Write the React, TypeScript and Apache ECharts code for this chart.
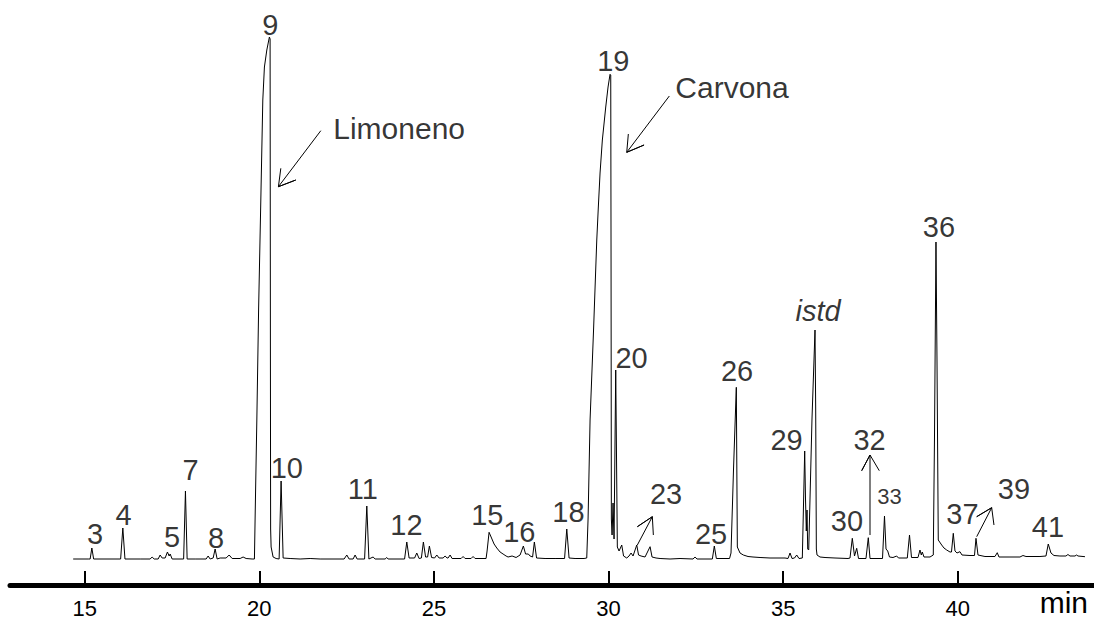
import React, { useEffect, useRef } from 'react';
import * as echarts from 'echarts';

const FONT = '"Liberation Sans", Arial, Helvetica, sans-serif';

// chromatogram trace: [retention time (min), abundance]
const trace: [number, number][] = [
  [14.669, 0], [15.098, 0], [15.155, 0], [15.204, 11], [15.255, 0],
  [16.028, 0], [16.091, 31], [16.152, 0], [16.587, 0], [16.873, 0],
  [16.93, 2], [16.988, 0], [17.102, 0], [17.159, 4], [17.217, 1],
  [17.302, 1], [17.368, 7], [17.417, 3], [17.446, 5], [17.503, 0],
  [17.832, 0], [17.884, 68], [17.932, 0], [18.161, 0], [18.476, 0],
  [18.533, 3], [18.591, 0], [18.677, 1], [18.734, 10], [18.791, 0],
  [18.877, 1], [19.049, 1], [19.135, 4], [19.221, 0.5], [19.45, 0.5],
  [19.535, 2], [19.621, 0.5], [19.793, 0], [19.859, 0], [19.893, 70],
  [19.928, 139], [19.979, 250], [20.042, 359], [20.099, 459], [20.145, 492],
  [20.214, 509], [20.288, 522], [20.308, 520], [20.317, 200], [20.323, 30],
  [20.337, 12], [20.394, 2], [20.48, 0.5], [20.566, 0], [20.623, 78],
  [20.681, 1], [20.881, 0.5], [21.167, 0], [21.454, 0.5], [21.74, 0],
  [22.427, 0], [22.504, 4], [22.57, 0], [22.685, 0], [22.742, 4],
  [22.799, 0], [23.014, 0], [23.077, 53], [23.137, 0], [23.257, 2],
  [23.315, 0], [23.601, 0], [23.649, 1.5], [23.687, 0], [24.159, 0],
  [24.222, 17], [24.288, 1], [24.445, 1], [24.508, 6], [24.574, 0.5],
  [24.64, 1], [24.697, 17], [24.76, 2], [24.818, 2], [24.869, 13],
  [24.932, 1.5], [25.018, 1], [25.081, 4], [25.147, 1], [25.261, 1],
  [25.319, 3], [25.376, 1], [25.404, 1], [25.462, 4], [25.519, 0.5],
  [25.777, 0.5], [25.834, 2.5], [25.891, 0.5], [26.063, 0.5], [26.12, 2.5],
  [26.177, 0.5], [26.492, 0.5], [26.521, 8], [26.578, 26.7], [26.636, 22],
  [26.721, 15], [26.799, 11], [26.893, 7], [26.979, 5], [27.065, 3],
  [27.122, 2], [27.237, 3], [27.351, 1.5], [27.466, 4], [27.56, 13],
  [27.623, 5], [27.703, 5], [27.752, 3], [27.824, 2], [27.875, 17],
  [27.938, 1], [28.181, 0.5], [28.468, 0.5], [28.74, 0.5], [28.803, 30],
  [28.869, 1], [29.04, 0.5], [29.298, 0.5], [29.375, 1], [29.413, 40],
  [29.47, 139], [29.57, 229], [29.662, 319], [29.707, 352], [29.756, 386],
  [29.822, 419], [29.919, 452], [29.985, 472], [30.042, 484.7], [30.062, 484],
  [30.071, 300], [30.08, 40], [30.1, 24], [30.128, 56], [30.157, 20],
  [30.205, 189], [30.251, 12], [30.3, 8], [30.377, 14], [30.429, 3],
  [30.52, 1], [30.586, 3], [30.644, 6], [30.701, 3], [30.807, 14],
  [30.858, 4], [30.93, 3], [31.044, 2], [31.188, 12.3], [31.245, 2],
  [31.359, 1], [31.474, 0.5], [31.76, 0], [32.046, 0.5], [32.418, 0],
  [32.476, 2], [32.533, 0], [32.971, 0], [33.028, 13], [33.086, 0.5],
  [33.464, 0.5], [33.506, 6], [33.578, 90], [33.658, 171.7], [33.687, 12],
  [33.764, 6], [33.859, 4], [33.993, 2.5], [34.136, 2], [34.337, 1.5],
  [34.623, 1], [35.052, 1], [35.138, 0.5], [35.196, 6], [35.253, 0.5],
  [35.324, 1], [35.387, 4], [35.453, 0.5], [35.548, 1], [35.616, 108],
  [35.639, 60], [35.662, 28], [35.682, 49], [35.702, 10], [35.731, 9],
  [35.768, 60], [35.825, 140], [35.911, 229], [35.931, 150], [35.949, 10],
  [35.969, 4], [36.054, 2], [36.198, 1.5], [36.484, 1], [36.856, 0.5],
  [36.913, 1], [36.979, 20.7], [37.042, 3], [37.105, 10.7], [37.157, 0.5],
  [37.371, 0.5], [37.437, 21.3], [37.486, 0.5], [37.844, 0.5], [37.901, 43],
  [37.944, 10], [37.993, 8], [38.044, 2], [38.144, 1.5], [38.25, 3],
  [38.302, 1], [38.554, 1], [38.617, 24], [38.674, 1.5], [38.86, 1.5],
  [38.917, 9], [38.955, 4], [38.983, 7], [39.032, 2], [39.204, 2],
  [39.298, 4], [39.332, 120], [39.375, 317], [39.404, 200], [39.441, 19],
  [39.539, 14], [39.604, 11], [39.682, 9], [39.776, 7], [39.819, 7],
  [39.871, 25.7], [39.919, 8], [39.977, 6], [40.062, 7.3], [40.12, 4],
  [40.349, 3.5], [40.478, 3.5], [40.521, 20.7], [40.578, 4], [40.778, 2.5],
  [41.064, 2.5], [41.13, 6.3], [41.179, 2], [41.494, 2], [41.78, 2],
  [41.866, 3.5], [41.952, 2.5], [42.353, 2.5], [42.525, 3], [42.59, 15],
  [42.668, 6], [42.754, 3.5], [42.925, 3], [43.097, 3], [43.154, 4.5],
  [43.212, 3], [43.355, 3], [43.403, 4], [43.441, 3], [43.641, 2.3],
];

// peak numbers and where their labels sit (min, abundance)
const peakLabels = ['3', '4', '5', '7', '8', '9', '10', '11', '12', '15', '16', '18', '19', '20',
  '23', '25', '26', '29', 'istd', '30', '32', '33', '36', '37', '39', '41'];
const peakLabelPos: [number, number][] = [
  [15.298, 25], [16.109, 44], [17.503, 22], [18.032, 89], [18.762, 21.5],
  [20.317, 534], [20.787, 90.7], [22.965, 70.3], [24.211, 34.3], [26.529, 43.7],
  [27.443, 27], [28.849, 47], [30.137, 497.7], [30.658, 201], [31.645, 65],
  [32.934, 25.5], [33.678, 188.5], [35.095, 119], [35.997, 248], [36.827, 38],
  [37.472, 119], [38.044, 62.5], [39.461, 332], [40.134, 45.5], [41.608, 70.3],
  [42.582, 32.5],
];

const compoundNames = ['Limoneno', 'Carvona'];
const compoundLabelPos: [number, number][] = [[24.002, 430.7], [33.535, 471.4]];

// arrows: [start, tip, arm1, arm2]
const arrowNames = ['Limoneno', 'Carvona', '23', '32', '39'];
const arrowPoints: [number, number][][] = [
  [[21.76, 428.3], [20.546, 372.3], [21.044, 379], [20.615, 390.7]],
  [[31.74, 463], [30.52, 406.7], [31.016, 414], [30.566, 425]],
  [[30.824, 14], [31.253, 42.3], [30.824, 32.3], [31.282, 24]],
  [[37.486, 24], [37.486, 104], [37.248, 88.3], [37.752, 88.3]],
  [[40.541, 22.3], [40.97, 51.3], [40.541, 42.3], [41.036, 34]],
];

const xTicks = [15, 20, 25, 30, 35, 40];
const xAxisName = 'min';

export default function App() {
  const ref = useRef<HTMLDivElement>(null);
  useEffect(() => {
    if (!ref.current) return;
    const chart = echarts.init(ref.current, undefined, { renderer: 'svg' });

    const baseLabel = { color: '#000', textBorderWidth: 0, textBorderColor: 'transparent', textShadowBlur: 0 };
    const labelData = peakLabels.map((name, i) => {
      const item: any = { name, value: peakLabelPos[i] };
      if (name === 'istd') item.label = { fontStyle: 'italic' };
      if (name === '33') item.label = { fontSize: 22 };
      return item;
    });
    const nameData = compoundNames.map((name, i) => ({ name, value: compoundLabelPos[i] }));

    const arrowSeries = arrowPoints.map((p, i) => ({
      type: 'line',
      name: 'arrow-' + arrowNames[i],
      data: [p[0], p[1], p[2], p[1], p[3]],
      symbol: 'none',
      silent: true,
      lineStyle: { color: '#000', width: 1 },
      z: 3,
    }));

    chart.setOption({
      animation: false,
      backgroundColor: '#fff',
      grid: { left: 10, right: 0, top: 0, bottom: 34 },
      xAxis: {
        type: 'value',
        min: 12.86,
        max: 43.9,
        axisLine: { onZero: false, lineStyle: { color: '#000', width: 5 } },
        axisTick: { inside: true, length: 14, lineStyle: { color: '#000', width: 2 }, customValues: xTicks },
        axisLabel: { customValues: xTicks, color: '#000', fontSize: 22, fontFamily: FONT, margin: 12 },
        splitLine: { show: false },
        name: xAxisName,
        nameLocation: 'end',
        nameGap: -6,
        nameTextStyle: {
          color: '#000', fontSize: 30, fontFamily: FONT, align: 'right', verticalAlign: 'top',
          lineHeight: 24, padding: [5, 0, 0, 0],
        },
      },
      yAxis: { type: 'value', min: -26, max: 559, show: false },
      series: [
        {
          type: 'line',
          name: 'TIC',
          data: trace,
          symbol: 'none',
          silent: true,
          lineStyle: { color: '#000', width: 1 },
          z: 2,
        },
        ...arrowSeries,
        {
          type: 'scatter',
          name: 'peaks',
          data: labelData,
          symbolSize: 0,
          silent: true,
          itemStyle: { color: '#000' },
          label: { show: true, position: 'inside', formatter: '{b}', fontSize: 29, fontFamily: FONT, ...baseLabel },
          z: 4,
        },
        {
          type: 'scatter',
          name: 'compounds',
          data: nameData,
          symbolSize: 0,
          silent: true,
          itemStyle: { color: '#000' },
          label: { show: true, position: 'inside', formatter: '{b}', fontSize: 30, fontFamily: FONT, ...baseLabel },
          z: 4,
        },
      ],
    });
    return () => chart.dispose();
  }, []);
  return (
    <div
      ref={ref}
      style={{ position: 'fixed', left: 0, top: 0, width: 1094, height: 619, background: '#fff' }}
    />
  );
}
